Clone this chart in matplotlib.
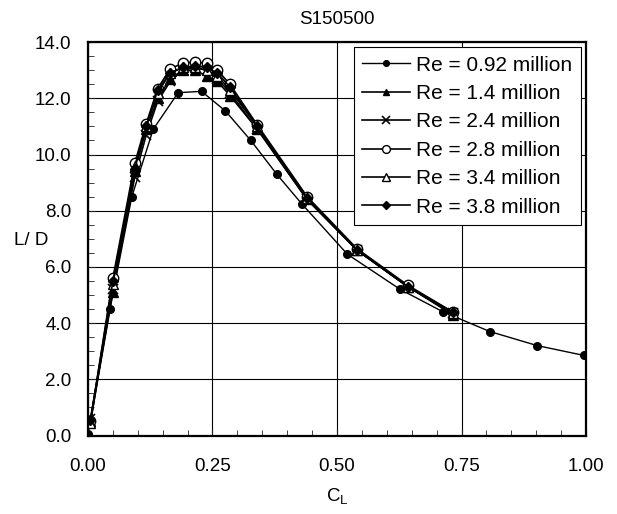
import numpy as np
import matplotlib
matplotlib.use("Agg")
import matplotlib.pyplot as plt
from matplotlib.ticker import MultipleLocator

plt.rcParams['font.family'] = ['Liberation Sans', 'DejaVu Sans']

# Re = 0.92 million
cl_092 = [0.0, 0.044, 0.088, 0.131, 0.181, 0.228, 0.276, 0.327, 0.379, 0.429,
          0.521, 0.627, 0.713, 0.807, 0.902, 0.996]
ld_092 = [0.05, 4.5, 8.5, 10.9, 12.2, 12.25, 11.55, 10.5, 9.3, 8.25,
          6.45, 5.2, 4.4, 3.7, 3.2, 2.85]

# higher Reynolds numbers share roughly the same CL stations
cl_hi = [0.005, 0.05, 0.094, 0.117, 0.14, 0.165, 0.19, 0.215, 0.238, 0.26,
         0.285, 0.34, 0.44, 0.54, 0.642, 0.732]
ld_14 = [0.5, 5.1, 9.4, 10.9, 12.0, 12.7, 13.0, 13.0, 12.8, 12.6,
         12.1, 10.9, 8.4, 6.6, 5.3, 4.3]
ld_24 = [0.6, 5.2, 9.2, 10.7, 11.9, 12.6, 13.0, 13.1, 13.0, 12.7,
         12.2, 10.9, 8.4, 6.6, 5.3, 4.35]
ld_28 = [0.5, 5.6, 9.7, 11.1, 12.35, 13.05, 13.25, 13.3, 13.25, 13.0,
         12.5, 11.05, 8.5, 6.65, 5.35, 4.4]
ld_34 = [0.45, 5.4, 9.6, 11.0, 12.2, 12.9, 13.1, 13.1, 13.0, 12.8,
         12.3, 11.0, 8.45, 6.6, 5.3, 4.35]
ld_38 = [0.55, 5.5, 9.5, 11.0, 12.3, 12.9, 13.1, 13.15, 13.1, 12.9,
         12.4, 11.0, 8.45, 6.6, 5.3, 4.4]

labels = ['Re = 0.92 million', 'Re = 1.4 million', 'Re = 2.4 million',
          'Re = 2.8 million', 'Re = 3.4 million', 'Re = 3.8 million']

fig = plt.figure(figsize=(6.17, 5.14), dpi=100)
ax = fig.add_axes([0.1426, 0.1527, 0.8072, 0.7653])

ax.plot(cl_092, ld_092, '-o', color='black', lw=1, ms=5.5, label=labels[0])
ax.plot(cl_hi, ld_14, '-^', color='black', lw=1.2, ms=6.5, label=labels[1])
ax.plot(cl_hi, ld_24, '-x', color='black', lw=1.2, ms=7, mew=1.2, label=labels[2])
ax.plot(cl_hi, ld_28, '-o', color='black', lw=1.2, ms=7.5, mfc='white', label=labels[3])
ax.plot(cl_hi, ld_34, '-^', color='black', lw=1.2, ms=7.5, mfc='white', label=labels[4])
ax.plot(cl_hi, ld_38, '-D', color='black', lw=1.2, ms=5, label=labels[5])

ax.set_xlim(0, 1.0)
ax.set_ylim(0, 14)
ax.xaxis.set_major_locator(MultipleLocator(0.25))
ax.xaxis.set_minor_locator(MultipleLocator(0.05))
ax.yaxis.set_major_locator(MultipleLocator(2))
ax.yaxis.set_minor_locator(MultipleLocator(0.5))
ax.set_xticklabels([f'{v:.2f}' for v in ax.get_xticks()])
ax.set_yticklabels([f'{v:.1f}' for v in ax.get_yticks()])
ax.tick_params(which='both', direction='in', labelsize=13.5, color='#222222')
ax.tick_params(which='major', length=5)
ax.tick_params(axis='x', which='major', pad=16)
ax.tick_params(axis='y', which='major', pad=12)
ax.tick_params(which='minor', length=4)
ax.grid(True, which='major', color='black', lw=0.8)
for s in ax.spines.values():
    s.set_linewidth(1.6)

ax.set_title('S150500', fontsize=13.5, pad=13)
ax.set_xlabel('C$_\\mathregular{L}$', fontsize=13.5)
ax.xaxis.set_label_coords(0.5, -0.13)
ax.set_ylabel('L/ D', fontsize=13.5, rotation=0, va='center', ha='center')
ax.yaxis.set_label_coords(-0.115, 0.497)

leg = ax.legend(loc='upper right', fontsize=15, handlelength=2.3,
                frameon=True, fancybox=False, borderaxespad=0.25,
                labelspacing=0.45, borderpad=0.4, handletextpad=0.3,
                markerscale=0.75)
leg.get_frame().set_edgecolor('black')
leg.get_frame().set_linewidth(0.8)
leg.get_frame().set_alpha(1)

fig.savefig('out.png', dpi=100)
